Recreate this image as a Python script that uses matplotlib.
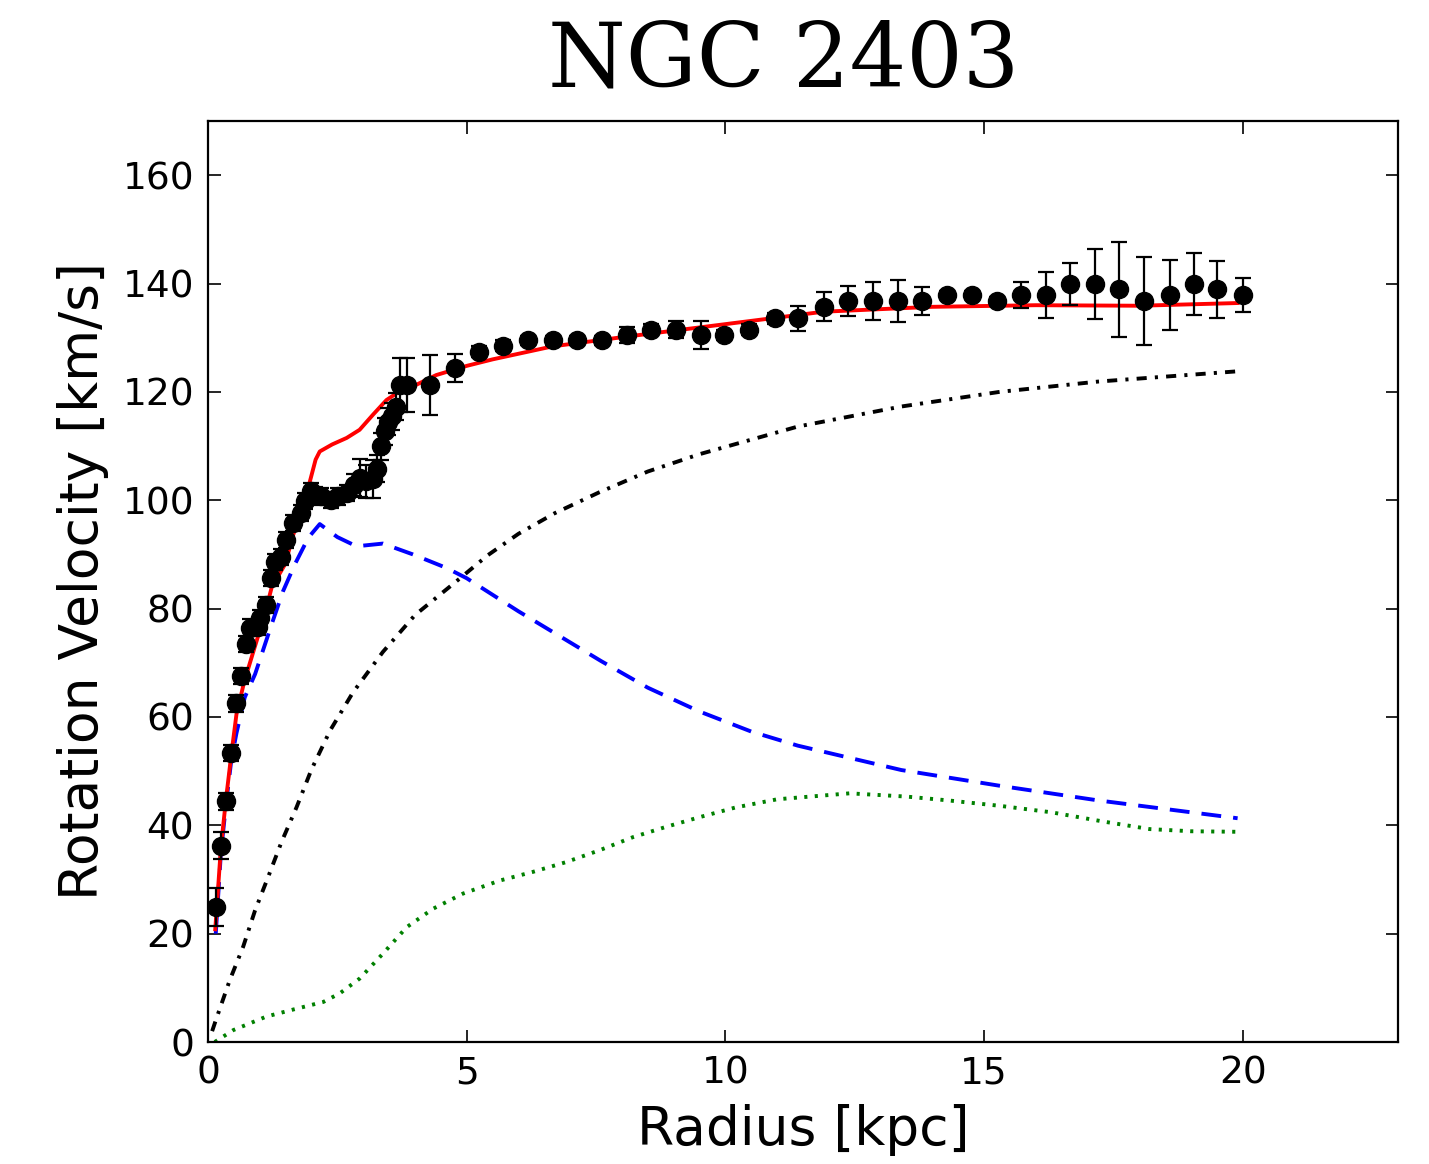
import matplotlib
matplotlib.use('Agg')
import matplotlib.pyplot as plt
import numpy as np

# observed rotation curve (radius in kpc, velocity and error in km/s)
r_obs = [0.15, 0.25, 0.35, 0.45, 0.55, 0.64, 0.73, 0.82, 0.96, 1.0, 1.12, 1.22,
         1.29, 1.42, 1.51, 1.64, 1.8, 1.87, 1.99, 2.07, 2.19, 2.37, 2.52, 2.68,
         2.82, 2.93, 3.06, 3.18, 3.26, 3.35, 3.42, 3.48, 3.55, 3.64, 3.71, 3.84,
         4.29, 4.77, 5.24, 5.71, 6.19, 6.66, 7.14, 7.62, 8.09, 8.57, 9.05, 9.52,
         9.98, 10.46, 10.95, 11.41, 11.91, 12.37, 12.86, 13.34, 13.80, 14.28,
         14.76, 15.24, 15.71, 16.2, 16.66, 17.14, 17.6, 18.1, 18.6, 19.05, 19.5, 20.0]
v_obs = [25.0, 36.2, 44.4, 53.4, 62.5, 67.5, 73.5, 76.5, 76.6, 78.3, 80.6, 85.6,
         88.6, 89.5, 92.7, 95.8, 97.6, 99.8, 101.7, 101.0, 100.7, 100.1, 100.7, 101.3,
         102.8, 104.1, 103.5, 104.0, 105.8, 110.0, 112.7, 114.5, 115.5, 117.3, 121.2, 121.3,
         121.3, 124.4, 127.4, 128.5, 129.5, 129.5, 129.5, 129.5, 130.5, 131.5, 131.5, 130.5,
         130.5, 131.5, 133.6, 133.6, 135.7, 136.8, 136.8, 136.8, 136.8, 137.9,
         137.9, 136.8, 137.9, 137.9, 139.9, 139.9, 138.9, 136.8, 137.9, 139.9, 138.9, 137.9]
e_obs = [3.5, 2.5, 1.5, 1.5, 1.5, 1.5, 1.5, 1.5, 1.5, 1.5, 1.5, 1.5,
         1.5, 1.5, 1.5, 1.5, 1.5, 1.5, 1.5, 1.5, 1.5, 1.5, 1.5, 1.5,
         2.0, 3.5, 3.0, 3.5, 2.5, 2.5, 2.5, 2.5, 2.5, 2.5, 5.0, 5.0,
         5.5, 2.6, 1.0, 1.0, 0.8, 0.8, 0.8, 0.8, 1.5, 1.0, 1.6, 2.6,
         1.0, 1.0, 1.0, 2.3, 2.7, 2.8, 3.5, 3.9, 2.6, 0.8,
         0.8, 0.8, 2.4, 4.2, 3.8, 6.5, 8.7, 8.1, 6.4, 5.7, 5.3, 3.1]

# total model
r_tot = [0.14, 0.25, 0.35, 0.45, 0.55, 0.7, 0.9, 1.1, 1.23, 1.49, 1.65, 1.87, 1.97,
         2.08, 2.16, 2.4, 2.68, 2.93, 3.19, 3.45, 3.64, 3.96, 4.41, 5.0, 5.5,
         6.66, 8.09, 9.75, 11.9, 14.0, 16.0, 18.0, 19.9]
v_tot = [20.8, 36.0, 45.0, 53.0, 60.5, 66.5, 72.8, 79.0, 83.9, 88.2, 93.7, 99.8, 103.5,
         107.5, 109.0, 110.3, 111.5, 113.0, 115.8, 118.5, 119.7, 121.0, 123.1, 124.8, 126.0,
         128.4, 130.2, 132.2, 134.8, 135.7, 136.0, 135.9, 136.4]

# stellar disk
r_disk = [0.15, 0.25, 0.35, 0.45, 0.55, 0.71, 0.91, 1.23, 1.45, 1.68, 1.94, 2.16,
          2.5, 2.87, 3.38, 3.96, 4.61, 5.0, 6.0, 7.6, 8.5, 9.5, 10.5, 11.4, 13.4,
          15.3, 17.2, 19.9]
v_disk = [20.0, 35.0, 44.0, 52.0, 57.0, 63.6, 67.9, 77.1, 83.2, 88.2, 93.1, 95.6,
          93.2, 91.5, 92.0, 90.0, 87.5, 85.6, 79.5, 70.3, 65.4, 61.0, 57.3, 54.7, 50.2,
          47.3, 44.6, 41.3]

# dark halo
r_halo = [0.08, 0.15, 0.42, 0.68, 0.91, 1.16, 1.42, 1.71, 2.0, 2.36, 2.8, 3.38,
          4.0, 4.86, 5.4, 6.0, 6.7, 7.57, 8.5, 9.5, 11.4, 13.4, 15.3, 17.2, 19.9]
v_halo = [2.0, 4.0, 11.4, 17.6, 24.3, 30.4, 36.9, 43.3, 50.3, 57.5, 64.5, 72.0,
          78.8, 85.5, 89.8, 93.8, 97.6, 101.5, 105.3, 108.5, 113.6, 117.3, 120.0, 121.9, 123.8]

# gas
r_gas = [0.13, 0.49, 1.13, 1.65, 2.23, 2.55, 2.93, 3.38, 3.84, 4.35, 4.93, 5.64,
         6.28, 6.92, 7.57, 8.21, 8.85, 9.5, 10.2, 11.0, 12.4, 13.5, 14.3, 15.3,
         16.3, 17.3, 18.2, 19.0, 19.9]
v_gas = [0.0, 2.2, 4.7, 6.0, 7.4, 9.0, 11.7, 16.3, 21.2, 24.6, 27.4, 29.8,
         31.4, 33.2, 35.4, 37.8, 39.7, 41.5, 43.3, 44.8, 45.9, 45.3, 44.6, 43.6,
         42.4, 40.7, 39.3, 38.9, 38.8]

fig = plt.figure(figsize=(14.29, 11.64), dpi=100)
ax = fig.add_axes([0.14556, 0.10481, 0.83275, 0.79124])

lw = 2.8
ax.plot(r_tot, v_tot, color='r', lw=lw, zorder=3)
ax.plot(r_disk, v_disk, color='b', lw=lw, dashes=(5.1, 3.1), zorder=2)
ax.plot(r_halo, v_halo, color='k', lw=lw, dashes=(2.6, 2.1, 0.8, 2.1), zorder=2)
ax.plot(r_gas, v_gas, color='g', lw=lw, dashes=(0.8, 1.9), zorder=2)
ax.errorbar(r_obs, v_obs, yerr=e_obs, fmt='o', color='k', ms=13,
            elinewidth=1.6, capsize=6, capthick=1.6, zorder=4)

ax.set_xlim(0, 23)
ax.set_ylim(0, 170)
ax.set_xticks([0, 5, 10, 15, 20])
ax.set_yticks(np.arange(0, 161, 20))
ax.tick_params(direction='in', length=9, width=1.2, top=True, right=True,
               labelsize=27, pad=10)
for s in ax.spines.values():
    s.set_linewidth(1.6)

ax.set_xlabel('Radius [kpc]', fontsize=38.5, labelpad=9)
ax.set_ylabel('Rotation Velocity [km/s]', fontsize=38.5, labelpad=10)
ax.text(0.484, 1.0 + 59 / 921, 'NGC 2403', transform=ax.transAxes,
        fontsize=64, family='DejaVu Serif', ha='center', va='center')

fig.savefig('out.png', dpi=100)
